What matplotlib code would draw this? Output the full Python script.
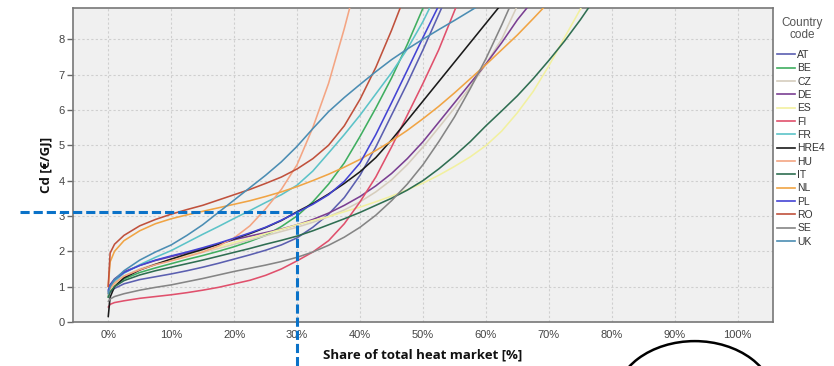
import matplotlib
matplotlib.use("Agg")
import matplotlib.pyplot as plt
from matplotlib.patches import Ellipse
from matplotlib.lines import Line2D

# ---- data (share of total heat market [%] vs Cd [EUR/GJ]) ----
share_pct = [0, 0.3, 1, 2.5, 5, 7.5, 10, 12.5, 15, 17.5, 20, 22.5, 25, 27.5, 30,
             32.5, 35, 37.5, 40, 42.5, 45, 47.5, 50, 52.5, 55, 57.5, 60, 62.5,
             65, 67.5, 70, 72.5, 75, 77.5]

countries = ["AT", "BE", "CZ", "DE", "ES", "FI", "FR", "HRE4", "HU", "IT",
             "NL", "PL", "RO", "SE", "UK"]

cd_AT = [0.75, 0.85, 0.95, 1.08, 1.2, 1.28, 1.36, 1.45, 1.55, 1.66, 1.78, 1.9, 2.03,
         2.18, 2.38, 2.68, 3.05, 3.52, 4.15, 4.95, 5.85, 6.75, 7.7, 8.7, 9.7]
cd_BE = [0.7, 0.9, 1.05, 1.22, 1.4, 1.53, 1.65, 1.77, 1.88, 2.0, 2.13, 2.28, 2.45,
         2.7, 3.0, 3.4, 3.9, 4.5, 5.25, 6.05, 6.9, 7.85, 8.88, 9.9]
cd_CZ = [0.8, 0.95, 1.1, 1.3, 1.5, 1.64, 1.75, 1.86, 1.97, 2.08, 2.2, 2.32, 2.44,
         2.56, 2.68, 2.82, 2.98, 3.17, 3.4, 3.68, 4.02, 4.45, 4.95, 5.5, 6.05,
         6.65, 7.3, 8.0, 8.95]
cd_DE = [0.85, 1.05, 1.22, 1.42, 1.6, 1.74, 1.85, 1.96, 2.08, 2.2, 2.33, 2.43, 2.53,
         2.63, 2.75, 2.9, 3.08, 3.3, 3.55, 3.85, 4.2, 4.62, 5.1, 5.65, 6.2, 6.75,
         7.3, 7.9, 8.55, 9.1]
cd_ES = [0.75, 0.9, 1.05, 1.27, 1.48, 1.63, 1.75, 1.87, 1.99, 2.12, 2.25, 2.37, 2.5,
         2.62, 2.75, 2.87, 2.98, 3.12, 3.25, 3.4, 3.56, 3.74, 3.93, 4.15, 4.4,
         4.67, 4.99, 5.4, 5.92, 6.52, 7.25, 8.05, 8.85, 9.65]
cd_FI = [0.42, 0.5, 0.55, 0.6, 0.67, 0.72, 0.77, 0.83, 0.9, 0.98, 1.08, 1.18, 1.32,
         1.5, 1.73, 1.98, 2.3, 2.78, 3.4, 4.1, 4.95, 5.85, 6.75, 7.7, 8.8, 9.9]
cd_FR = [0.85, 1.0, 1.15, 1.38, 1.62, 1.83, 2.02, 2.25, 2.48, 2.7, 2.93, 3.15, 3.38,
         3.6, 3.87, 4.27, 4.78, 5.3, 5.85, 6.45, 7.05, 7.72, 8.5, 9.4]
cd_HRE4 = [0.15, 0.7, 1.0, 1.25, 1.47, 1.63, 1.78, 1.92, 2.05, 2.2, 2.35, 2.5, 2.67,
           2.87, 3.12, 3.35, 3.62, 3.92, 4.25, 4.65, 5.15, 5.7, 6.25, 6.8, 7.35,
           7.9, 8.45, 9.0]
cd_HU = [0.8, 0.95, 1.1, 1.3, 1.48, 1.62, 1.73, 1.85, 1.98, 2.15, 2.38, 2.72, 3.2,
         3.75, 4.45, 5.5, 6.75, 8.3, 10.0]
cd_IT = [0.7, 0.85, 1.0, 1.17, 1.33, 1.45, 1.55, 1.65, 1.75, 1.86, 1.97, 2.08, 2.2,
         2.31, 2.43, 2.58, 2.75, 2.92, 3.1, 3.3, 3.5, 3.73, 4.0, 4.33, 4.7, 5.1,
         5.55, 5.97, 6.4, 6.88, 7.4, 7.95, 8.55, 9.2]
cd_NL = [1.0, 1.7, 2.0, 2.3, 2.58, 2.78, 2.92, 3.03, 3.13, 3.23, 3.33, 3.43, 3.55,
         3.68, 3.83, 4.0, 4.18, 4.38, 4.6, 4.85, 5.12, 5.42, 5.75, 6.1, 6.48,
         6.88, 7.28, 7.7, 8.12, 8.58, 9.05]
cd_PL = [0.9, 1.05, 1.2, 1.4, 1.6, 1.75, 1.87, 1.98, 2.1, 2.23, 2.37, 2.52, 2.68,
         2.88, 3.1, 3.33, 3.6, 3.98, 4.5, 5.3, 6.2, 7.12, 8.05, 8.95]
cd_RO = [1.0, 1.95, 2.2, 2.45, 2.72, 2.9, 3.05, 3.18, 3.3, 3.45, 3.6, 3.75, 3.92,
         4.1, 4.33, 4.62, 5.0, 5.55, 6.3, 7.2, 8.25, 9.4]
cd_SE = [0.58, 0.65, 0.72, 0.8, 0.9, 0.98, 1.05, 1.14, 1.23, 1.33, 1.43, 1.52, 1.61,
         1.71, 1.83, 1.98, 2.17, 2.4, 2.68, 3.02, 3.43, 3.9, 4.45, 5.1, 5.8,
         6.6, 7.45, 8.4, 9.4]
cd_UK = [0.8, 1.0, 1.2, 1.45, 1.75, 1.98, 2.18, 2.45, 2.75, 3.1, 3.45, 3.8, 4.15,
         4.53, 4.97, 5.47, 5.95, 6.35, 6.72, 7.08, 7.42, 7.72, 8.0, 8.27, 8.53,
         8.8, 9.07]

series = [cd_AT, cd_BE, cd_CZ, cd_DE, cd_ES, cd_FI, cd_FR, cd_HRE4, cd_HU, cd_IT,
          cd_NL, cd_PL, cd_RO, cd_SE, cd_UK]

colors = ["#5b5fb0", "#3fae60", "#d6cdbd", "#7a3f92", "#f2f0a0", "#e0506c",
          "#5cc3c8", "#1a1a1a", "#f4a583", "#2f6e52", "#f0a444", "#4444d4",
          "#c0513c", "#858585", "#4b8db3"]

x_ticks = [0, 10, 20, 30, 40, 50, 60, 70, 80, 90, 100]
x_tick_labels = ["0%", "10%", "20%", "30%", "40%", "50%", "60%", "70%", "80%",
                 "90%", "100%"]
y_ticks = [0, 1, 2, 3, 4, 5, 6, 7, 8]

marker_share = 30
marker_cost = 3.12

# ---- figure ----
plt.rcParams['font.family'] = ['Liberation Sans', 'DejaVu Sans']
fig = plt.figure(figsize=(8.34, 3.66), dpi=100)
ax = fig.add_axes([0.0875, 0.1202, 0.8394, 0.8578])
ax.set_facecolor("#f0f0f0")

for name, ys, c in zip(countries, series, colors):
    ax.plot(share_pct[:len(ys)], ys, color=c, lw=1.15, label=name,
            solid_capstyle="round", solid_joinstyle="round", zorder=3)

ax.set_xlim(-5.6, 105.6)
ax.set_ylim(0, 8.88)
ax.set_xticks(x_ticks)
ax.set_xticklabels(x_tick_labels)
ax.set_yticks(y_ticks)
ax.grid(True, color="#cfcfcf", linestyle=(0, (2, 2)), lw=0.8, zorder=1)
ax.tick_params(axis="x", length=0, labelsize=8, colors="#444444", pad=6)
ax.tick_params(axis="y", length=4, width=1, labelsize=8, colors="#444444",
               pad=2, color="#666666")
for s in ax.spines.values():
    s.set_color("#777777")
    s.set_linewidth(1.2)

ax.set_xlabel("Share of total heat market [%]", fontsize=9.5, fontweight="bold",
              family=["Open Sans", "DejaVu Sans"], color="#111111", labelpad=6)
ax.set_ylabel("Cd [€/GJ]", fontsize=9.5, fontweight="bold",
              family=["Open Sans", "DejaVu Sans"], color="#111111", labelpad=4)

# highlighted reading at 30 %
ax.plot([-14, marker_share], [marker_cost, marker_cost], color="#0a72c8", lw=2.2,
        linestyle=(0, (3, 1.3)), clip_on=False, zorder=5)
ax.plot([marker_share, marker_share], [marker_cost, -1.5], color="#0a72c8", lw=2.2,
        linestyle=(0, (3, 1.3)), clip_on=False, zorder=5)

# hand-drawn circle at the bottom right
fig.patches.append(Ellipse((0.833, -0.096), 0.192, 0.328, transform=fig.transFigure,
                           fill=False, edgecolor="black", lw=1.8))

# legend
fig.text(0.9616, 1 - 29 / 366, "Country\ncode", ha="center", va="center",
         fontsize=8.5, color="#555555", linespacing=1.0)
handles = [Line2D([], [], color=c, lw=1.2) for c in colors]
leg = fig.legend(handles, countries, loc="upper left",
                 bbox_to_anchor=(0.932, 1 - 50 / 366), frameon=False, fontsize=7.5,
                 handlelength=1.7, handletextpad=0.2,
                 labelspacing=0.32, borderaxespad=0, borderpad=0)
for t in leg.get_texts():
    t.set_color("#333333")

fig.savefig("out.png", dpi=100)
